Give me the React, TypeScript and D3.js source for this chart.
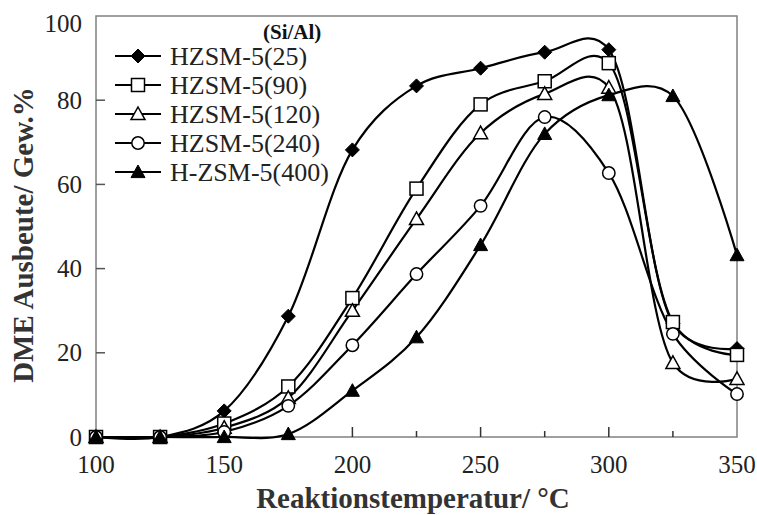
import React from "react";
import * as d3 from "d3";

const temps = [100, 125, 150, 175, 200, 225, 250, 275, 300, 325, 350];
const s25 = [0, 0, 6.2, 28.7, 68.2, 83.4, 87.6, 91.4, 92, 27, 21];
const s90 = [0, 0, 3.2, 12, 33, 59, 79, 84.5, 88.8, 27.3, 19.5];
const s120 = [0, 0, 2.2, 9.3, 30, 51.8, 72.2, 81.5, 83, 17.6, 13.8];
const s240 = [0, 0, 1.2, 7.4, 21.8, 38.7, 54.9, 76, 62.7, 24.5, 10.2];
const s400 = [0, 0, 0, 0.7, 11, 23.7, 45.6, 72, 81.2, 81, 43.2];
const seriesNames = ["HZSM-5(25)", "HZSM-5(90)", "HZSM-5(120)", "HZSM-5(240)", "H-ZSM-5(400)"];
const seriesMarkers = ["diamondFilled", "squareOpen", "triangleOpen", "circleOpen", "triangleFilled"];
const xTicks = [100, 150, 200, 250, 300, 350];
const xMinorTicks = [125, 175, 225, 275, 325];
const yTicks = [0, 20, 40, 60, 80, 100];

const W = 757, H = 515;
const L = 96, R = 737, T = 16, B = 437;
const serif = "'Liberation Serif', 'Times New Roman', serif";

function Marker({ kind, x, y }: { kind: string; x: number; y: number }) {
  const sw = 1.5;
  if (kind === "diamondFilled") {
    const s = 7;
    return <path d={`M${x},${y - s}L${x + s},${y}L${x},${y + s}L${x - s},${y}Z`} fill="#000" stroke="#000" strokeWidth={1} />;
  }
  if (kind === "squareOpen") {
    const s = 6.5;
    return <rect x={x - s} y={y - s} width={2 * s} height={2 * s} fill="#fff" stroke="#000" strokeWidth={sw} />;
  }
  if (kind === "circleOpen") {
    return <circle cx={x} cy={y} r={6.2} fill="#fff" stroke="#000" strokeWidth={sw} />;
  }
  const s = 7;
  const d = `M${x},${y - s}L${x + s},${y + s * 0.8}L${x - s},${y + s * 0.8}Z`;
  if (kind === "triangleOpen") return <path d={d} fill="#fff" stroke="#000" strokeWidth={sw} />;
  return <path d={d} fill="#000" stroke="#000" strokeWidth={1} />;
}

export default function App() {
  const x = d3.scaleLinear().domain([100, 350]).range([L, R]);
  const y = d3.scaleLinear().domain([0, 100]).range([B, T]);
  const allSeries = [s25, s90, s120, s240, s400];
  const line = d3
    .line<number>()
    .x((_, i) => x(temps[i]))
    .y((d) => y(d))
    .curve(d3.curveCatmullRom.alpha(0.25));

  const legendX = 115;
  const legendY0 = 56;
  const legendDy = 29;

  return (
    <svg width={W} height={H} style={{ position: "absolute", left: 0, top: 0, background: "#fff" }}>
      <rect x={0} y={0} width={W} height={H} fill="#fff" />
      <rect x={L} y={T} width={R - L} height={B - T} fill="none" stroke="#808080" strokeWidth={1.5} />
      {yTicks.map((t) => (
        <g key={"y" + t}>
          {t > 0 && t < 100 && <line x1={L} x2={L + 9} y1={y(t)} y2={y(t)} stroke="#555" strokeWidth={1.5} />}
          <text x={82} y={y(t) + 8.5 + (t === 100 ? 7 : 0)} textAnchor="end" fontFamily={serif} fontSize={25} fill="#222">
            {t}
          </text>
        </g>
      ))}
      {xTicks.map((t) => (
        <g key={"x" + t}>
          {t > 100 && t < 350 && <line x1={x(t)} x2={x(t)} y1={B} y2={B - 10} stroke="#333" strokeWidth={1.5} />}
          <text x={x(t)} y={473} textAnchor="middle" fontFamily={serif} fontSize={25} fill="#222">
            {t}
          </text>
        </g>
      ))}
      {xMinorTicks.map((t) => (
        <line key={"m" + t} x1={x(t)} x2={x(t)} y1={B} y2={B - 6} stroke="#333" strokeWidth={1.5} />
      ))}
      {allSeries.map((s, i) => (
        <path key={"l" + i} d={line(s) || ""} fill="none" stroke="#000" strokeWidth={2.2} />
      ))}
      {allSeries.map((s, i) =>
        s.map((v, j) => <Marker key={`m${i}-${j}`} kind={seriesMarkers[i]} x={x(temps[j])} y={y(v)} />)
      )}
      <text x={263} y={39} fontFamily={serif} fontWeight="bold" fontSize={21} fill="#111">
        (Si/Al)
      </text>
      {seriesNames.map((n, i) => {
        const ly = legendY0 + i * legendDy;
        return (
          <g key={"lg" + i}>
            <line x1={legendX} x2={legendX + 46} y1={ly} y2={ly} stroke="#000" strokeWidth={2.2} />
            <Marker kind={seriesMarkers[i]} x={legendX + 23} y={ly} />
            <text x={170} y={ly + 9} fontFamily={serif} fontSize={26} fill="#222">
              {n}
            </text>
          </g>
        );
      })}
      <text x={413} y={508} textAnchor="middle" fontFamily={serif} fontWeight="bold" fontSize={29} fill="#333">
        Reaktionstemperatur/ °C
      </text>
      <text
        transform={`translate(33,235) rotate(-90)`}
        textAnchor="middle"
        fontFamily={serif}
        fontWeight="bold"
        fontSize={29}
        fill="#333"
      >
        DME Ausbeute/ Gew.%
      </text>
    </svg>
  );
}
